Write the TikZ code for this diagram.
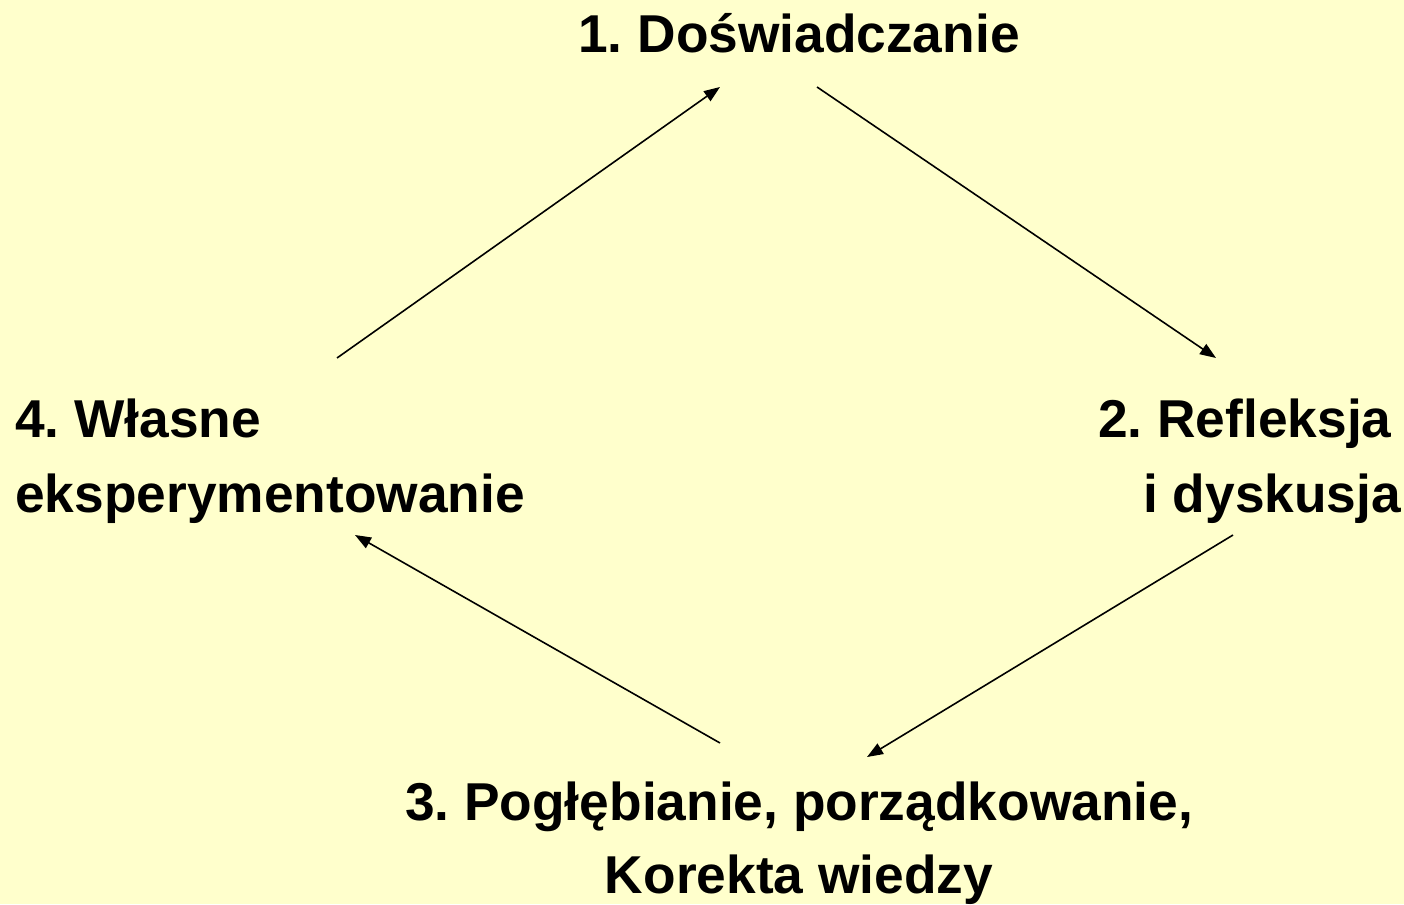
\documentclass[tikz,border=0pt]{standalone}
\usepackage{fontspec}
\setmainfont{Liberation Sans}
\usetikzlibrary{arrows.meta}
\definecolor{bg}{HTML}{FFFFCC}
\frenchspacing
\begin{document}
\begin{tikzpicture}[x=1pt,y=-1pt,
  lbl/.style={inner sep=0pt, font=\fontsize{53.3}{75}\selectfont\bfseries},
  conn/.style={line width=1.6pt, -{Triangle[length=16pt,width=12pt]}}]
\fill[bg] (0,0) rectangle (1404,904);
\useasboundingbox (0,0) rectangle (1404,904);
\node[lbl, anchor=base] (n1) at (799,53) {1. Doświadczanie};
\node[lbl, anchor=base west] (n2a) at (1098,437) {2. Refleksja};
\node[lbl, anchor=base west] (n2b) at (1143,512) {i dyskusja};
\node[lbl, anchor=base] (n3a) at (799,820) {3. Pogłębianie, porządkowanie,};
\node[lbl, anchor=base] (n3b) at (799,893) {Korekta wiedzy};
\node[lbl, anchor=base west] (n4a) at (15,437) {4. Własne};
\node[lbl, anchor=base west] (n4b) at (15,512) {eksperymentowanie};
\coordinate (c1in) at (720,87);
\coordinate (c1out) at (817,87);
\coordinate (c2in) at (1216,358);
\coordinate (c2out) at (1233,535);
\coordinate (c3in) at (867,757);
\coordinate (c3out) at (720,743);
\coordinate (c4in) at (355,535);
\coordinate (c4out) at (337,358);
\draw[conn] (c4out) -- (c1in);
\draw[conn] (c1out) -- (c2in);
\draw[conn] (c2out) -- (c3in);
\draw[conn] (c3out) -- (c4in);
\end{tikzpicture}
\end{document}
